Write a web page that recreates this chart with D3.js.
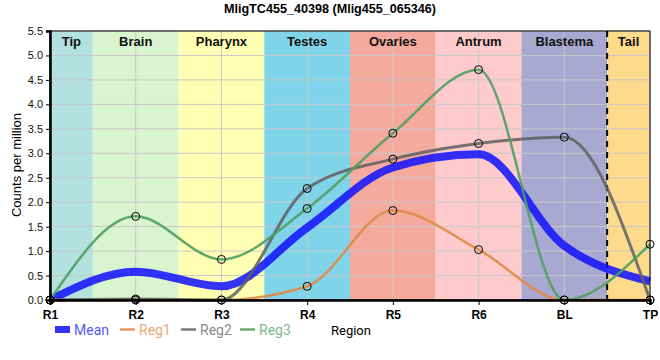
<!DOCTYPE html>
<html><head><meta charset="utf-8">
<script src="https://cdn.jsdelivr.net/npm/d3@7"></script>
<style>body{margin:0;background:#fff}svg{display:block;font-family:"Liberation Sans",Arial,sans-serif}</style>
</head><body><svg id="c" width="660" height="360"></svg>
<script>
const regions = ["R1","R2","R3","R4","R5","R6","BL","TP"];
const meanVals = [0, 0.58, 0.28, 1.48, 2.71, 2.98, 1.11, 0.38];
const reg1Vals = [0, 0, 0, 0.28, 1.83, 1.03, 0, 0];
const reg2Vals = [0, 0.02, 0, 2.28, 2.88, 3.20, 3.33, 0];
const reg3Vals = [0, 1.71, 0.83, 1.87, 3.41, 4.71, 0, 1.14];
const yTicks = [0,0.5,1,1.5,2,2.5,3,3.5,4,4.5,5,5.5];
const bandNames = ["Tip","Brain","Pharynx","Testes","Ovaries","Antrum","Blastema","Tail"];
const bandStart = [0, 0.5, 1.5, 2.5, 3.5, 4.5, 5.5, 6.5];
const bandEnd   = [0.5, 1.5, 2.5, 3.5, 4.5, 5.5, 6.5, 7];
const bandColors = ["#b3e2de","#d9f5d0","#ffffb3","#80d4ea","#f4aa9c","#fdcbcb","#a8a8d0","#fedb8c"];
const seriesNames = ["Mean","Reg1","Reg2","Reg3"];
const seriesColors = ["#1010ff","#e08a45","#606060","#4f9e62"];

const svg = d3.select("#c");
const L=50,R=650,T=31,B=300;
const x = d3.scaleLinear().domain([0,7]).range([L,R]);
const y = d3.scaleLinear().domain([0,5.5]).range([B,T]);

// bands
svg.append("g").selectAll("rect").data(bandNames).join("rect")
  .attr("x",(d,i)=>x(bandStart[i])).attr("width",(d,i)=>x(bandEnd[i])-x(bandStart[i]))
  .attr("y",T).attr("height",B-T).attr("fill",(d,i)=>bandColors[i]);
// grid
svg.append("g").selectAll("line").data(yTicks).join("line")
  .attr("x1",L).attr("x2",R).attr("y1",d=>y(d)).attr("y2",d=>y(d))
  .attr("stroke","#c8c8c8").attr("stroke-width",1);
svg.append("g").selectAll("line").data(regions).join("line")
  .attr("x1",(d,i)=>x(i)).attr("x2",(d,i)=>x(i)).attr("y1",T).attr("y2",B)
  .attr("stroke","#c8c8c8").attr("stroke-width",1);
// band labels
svg.append("g").selectAll("text").data(bandNames).join("text")
  .attr("x",(d,i)=>(x(bandStart[i])+x(bandEnd[i]))/2).attr("y",T+15)
  .attr("text-anchor","middle").attr("font-size",13).attr("font-weight","bold").attr("fill","#111")
  .text(d=>d);
// dashed separator
svg.append("line").attr("x1",x(6.5)).attr("x2",x(6.5)).attr("y1",T).attr("y2",B)
  .attr("stroke","#000").attr("stroke-width",2).attr("stroke-dasharray","6,5");

// lines
const line = d3.line().x((d,i)=>x(i)).y(d=>y(d)).curve(d3.curveMonotoneX);
const allSeries = [meanVals,reg1Vals,reg2Vals,reg3Vals];
const widths = [8,2.5,3,2.5];
const opac = [0.85,0.9,0.85,0.9];
allSeries.forEach((s,k)=>{
  svg.append("path").attr("d",line(s)).attr("fill","none")
    .attr("stroke",seriesColors[k]).attr("stroke-width",widths[k]).attr("stroke-opacity",opac[k]);
});

// frame
svg.append("rect").attr("x",L).attr("y",T).attr("width",R-L).attr("height",B-T)
  .attr("fill","none").attr("stroke","#000").attr("stroke-width",1);

// axes
const yAxis = svg.append("g").attr("transform",`translate(${L},0)`)
  .call(d3.axisLeft(y).tickValues(yTicks).tickFormat(d3.format(".1f")).tickSize(4));
yAxis.select(".domain").attr("stroke-width",2.5);
yAxis.selectAll("text").attr("font-size",11).attr("font-family","Liberation Sans, Arial").attr("fill","#111");
const xAxis = svg.append("g").attr("transform",`translate(0,${B})`)
  .call(d3.axisBottom(x).tickValues(d3.range(regions.length)).tickFormat(i=>regions[i]).tickSize(5));
xAxis.select(".domain").attr("stroke-width",2.5);
xAxis.selectAll("text").attr("font-size",12).attr("font-weight","bold").attr("font-family","Liberation Sans, Arial").attr("fill","#000").attr("dy","0.9em");

// points
[reg1Vals,reg2Vals,reg3Vals].forEach(s=>{
  svg.append("g").selectAll("circle").data(s).join("circle")
    .attr("cx",(d,i)=>x(i)).attr("cy",d=>y(d)).attr("r",4)
    .attr("fill","none").attr("stroke","#000").attr("stroke-width",1);
});

// title
svg.append("text").attr("x",330).attr("y",13).attr("text-anchor","middle")
  .attr("font-size",12.6).attr("font-weight","bold").text("MligTC455_40398 (Mlig455_065346)");
// y label
svg.append("text").attr("transform","translate(21,165) rotate(-90)").attr("text-anchor","middle")
  .attr("font-size",13).text("Counts per million");
// x label
svg.append("text").attr("x",331).attr("y",335).attr("font-size",13).attr("font-family","Roboto, sans-serif").text("Region");

// legend
const legX = [55,120,181,240];
const leg = svg.append("g");
seriesNames.forEach((n,k)=>{
  if(k===0){
    leg.append("rect").attr("x",legX[k]).attr("y",326).attr("width",15).attr("height",7).attr("fill",seriesColors[k]).attr("fill-opacity",0.85);
  } else {
    leg.append("line").attr("x1",legX[k]).attr("x2",legX[k]+15).attr("y1",329.5).attr("y2",329.5)
      .attr("stroke",seriesColors[k]).attr("stroke-width",2.5).attr("stroke-opacity",0.85);
  }
  leg.append("text").attr("x",legX[k]+19).attr("y",335).attr("font-size",14)
    .attr("font-family","Roboto, sans-serif").attr("fill",seriesColors[k]).attr("fill-opacity",0.75).text(n);
});
</script></body></html>
